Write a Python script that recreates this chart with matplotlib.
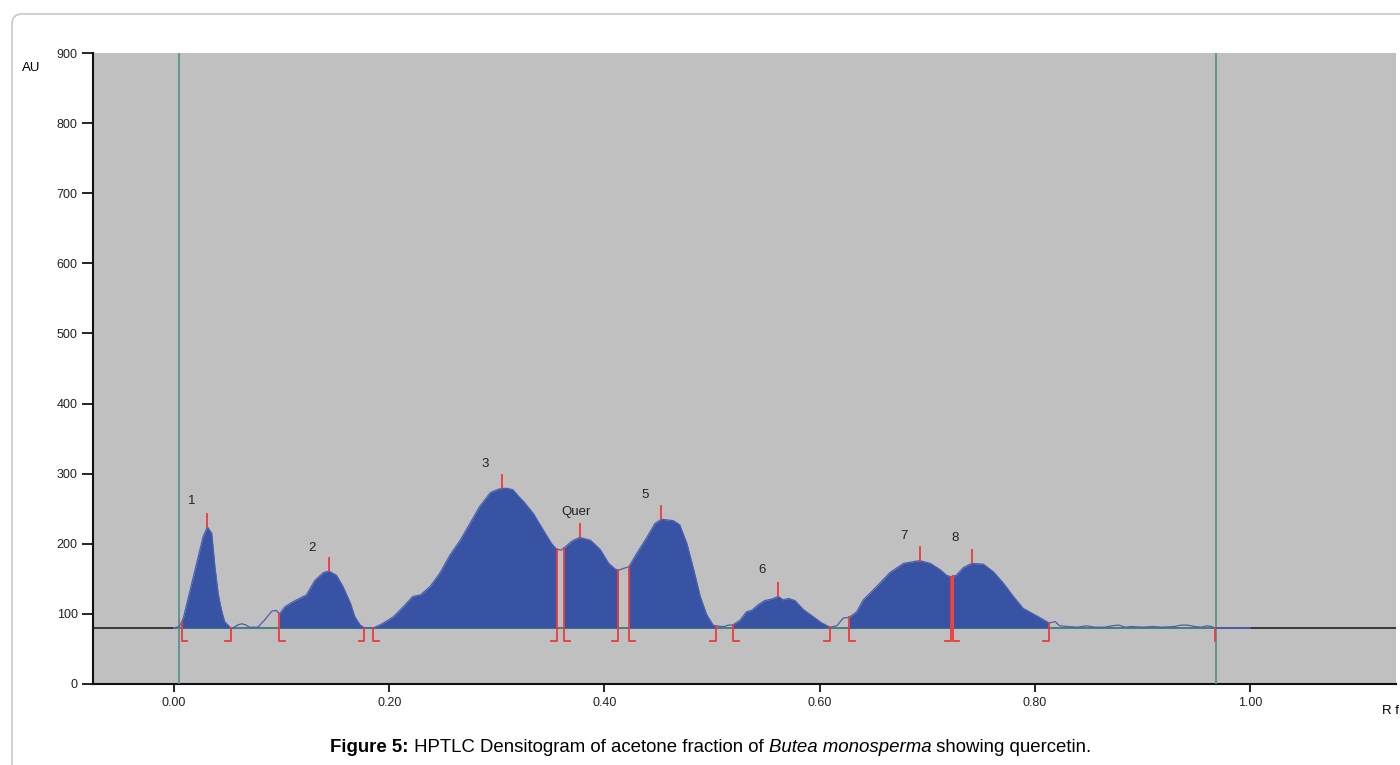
"""
HPTLC densitogram of the acetone fraction of Butea monosperma (Figure 5)
- scanned track AU vs Rf, integrated peaks filled in blue
- red start/end brackets and peak-max ticks like the scanner software
"""
import matplotlib
matplotlib.use('Agg')
import matplotlib.pyplot as plt
from matplotlib.patches import FancyBboxPatch
import numpy as np

# ---------------- densitogram trace ----------------
RF = [0.000, 0.005, 0.007, 0.009, 0.015, 0.021, 0.027, 0.031, 0.035, 0.038,
      0.041, 0.044, 0.047, 0.0527, 0.055, 0.059, 0.063, 0.067, 0.070, 0.078,
      0.084, 0.091, 0.095, 0.098, 0.103, 0.109, 0.114, 0.123, 0.131, 0.139,
      0.144, 0.151, 0.157, 0.164, 0.168, 0.173, 0.177, 0.1853, 0.191, 0.198,
      0.204, 0.213, 0.222, 0.229, 0.238, 0.247, 0.2565, 0.266, 0.275, 0.284,
      0.294, 0.300, 0.3045, 0.310, 0.315, 0.320, 0.325, 0.334, 0.343, 0.351,
      0.3557, 0.360, 0.3625, 0.364, 0.370, 0.377, 0.387, 0.396, 0.404, 0.410,
      0.413, 0.418, 0.4226, 0.430, 0.439, 0.447, 0.453, 0.464, 0.470, 0.4765,
      0.483, 0.489, 0.495, 0.501, 0.5037, 0.508, 0.512, 0.515, 0.5192, 0.526,
      0.532, 0.537, 0.543, 0.549, 0.5555, 0.5616, 0.566, 0.571, 0.577, 0.585,
      0.594, 0.602, 0.6097, 0.616, 0.622, 0.6276, 0.6345, 0.6406, 0.653, 0.6654,
      0.678, 0.693, 0.703, 0.712, 0.718, 0.7218, 0.7243, 0.727, 0.7336, 0.7413,
      0.752, 0.7615, 0.7707, 0.780, 0.789, 0.802, 0.811, 0.8135, 0.819, 0.823,
      0.830, 0.840, 0.848, 0.856, 0.865, 0.872, 0.878, 0.884, 0.890, 0.900,
      0.910, 0.918, 0.930, 0.936, 0.942, 0.948, 0.955, 0.960, 0.964, 0.9675,
      1.000]
AU = [80, 82, 88, 96, 134, 172, 210, 224, 215, 167,
      129, 106, 89, 80, 80, 84, 86, 84, 81, 81,
      91, 104, 105, 100, 110, 116, 120, 127, 148, 159,
      161, 155, 139, 115, 96, 84, 80, 80, 84, 90,
      96, 110, 125, 127, 139, 158, 184, 205, 229, 253,
      273, 277, 279, 279, 277, 268, 260, 243, 220, 200,
      192, 191, 194, 196, 204, 209, 205, 192, 172, 164,
      162, 165, 167, 186, 208, 229, 235, 233, 227, 201,
      163, 125, 99, 84, 83, 82, 82, 84, 84, 91,
      103, 105, 113, 119, 121, 125, 120, 122, 119, 106,
      96, 87, 81, 83, 94, 95, 103, 120, 139, 159,
      172, 176, 172, 163, 155, 153, 154, 155, 166, 172,
      171, 160, 144, 125, 108, 97, 89, 87, 89, 83,
      82, 81, 83, 81, 81, 83, 84, 81, 82, 81,
      82, 81, 82, 84, 84, 82, 81, 83, 82, 80,
      80]

BASELINE = 80
# integrated peaks: label, start Rf, max Rf, end Rf
PEAK_LABELS = ['1', '2', '3', 'Quer', '5', '6', '7', '8']
PEAK_START = [0.007, 0.098, 0.1853, 0.3625, 0.4226, 0.5192, 0.6276, 0.7243]
PEAK_MAX = [0.031, 0.144, 0.3045, 0.377, 0.453, 0.5616, 0.693, 0.7413]
PEAK_END = [0.0527, 0.177, 0.3557, 0.413, 0.5037, 0.6097, 0.7218, 0.8135]
# label anchor (Rf, AU)
LABEL_RF = [0.0167, 0.128, 0.289, 0.3736, 0.4377, 0.5465, 0.6784, 0.7258]
LABEL_AU = [261, 194, 314, 245, 270, 163, 211, 208]

# scan window (teal lines) and final end marker
WINDOW = [0.005, 0.968]
TRACK_END = 0.9675

FILL_BLUE = '#3853a4'
LINE_BLUE = '#4a5fb0'
RED = '#ee3b3b'
TEAL = '#4d8f88'
BG_GRAY = '#c0c0c0'


def main():
    rf = np.array(RF)
    au = np.array(AU, dtype=float)

    plt.rcParams['font.family'] = ['Liberation Sans', 'DejaVu Sans']
    fig = plt.figure(figsize=(14, 7.65), dpi=100)

    # rounded page frame (outline only)
    frame = FancyBboxPatch((12, -40), 1450, 791, boxstyle='round,pad=0,rounding_size=10',
                           transform=None, facecolor='none', edgecolor='#c8c8c8',
                           linewidth=1.2, zorder=0)
    fig.patches.append(frame)

    ax = fig.add_axes([93 / 1400, 81 / 765, 1303 / 1400, 631 / 765])
    ax.set_facecolor(BG_GRAY)
    ax.set_xlim(-0.0753, 1.1357)
    ax.set_ylim(0, 900)

    # ---- baseline + trace ----
    ax.axhline(BASELINE, color='#222222', linewidth=1.2, zorder=2)
    ax.plot([rf[0], TRACK_END], [BASELINE, BASELINE], color=TEAL, linewidth=1.2, zorder=3)
    for s, e in zip(PEAK_START, PEAK_END):
        m = (rf >= s - 1e-6) & (rf <= e + 1e-6)
        ax.fill_between(rf[m], BASELINE, au[m], color=FILL_BLUE, linewidth=0, zorder=4)
    ax.plot(rf, au, color=LINE_BLUE, linewidth=0.9, zorder=5)
    ax.plot([TRACK_END, rf[-1]], [BASELINE, BASELINE], color=LINE_BLUE, linewidth=1.2, zorder=5)

    # ---- scan window ----
    for w in WINDOW:
        ax.axvline(w, color=TEAL, linewidth=1.2, zorder=3)

    # ---- red integration markers ----
    bottom = 62
    foot = 0.0055
    for s, e in zip(PEAK_START, PEAK_END):
        hs = au[np.isclose(rf, s)][0]
        he = au[np.isclose(rf, e)][0]
        ax.plot([s, s, s + foot], [hs, bottom, bottom], color=RED, linewidth=1.3, zorder=6)
        ax.plot([e - foot, e, e], [bottom, bottom, he], color=RED, linewidth=1.3, zorder=6)
    ax.plot([TRACK_END, TRACK_END], [BASELINE, 62], color=RED, linewidth=1.3, zorder=6)

    for pk in PEAK_MAX:
        h = au[np.isclose(rf, pk)][0]
        ax.plot([pk, pk], [h, h + 19], color=RED, linewidth=1.3, zorder=6)

    for lab, x, y in zip(PEAK_LABELS, LABEL_RF, LABEL_AU):
        ax.text(x, y, lab, ha='center', va='center', fontsize=9.5, color='#222222', zorder=7)

    # ---- axes cosmetics ----
    ax.set_yticks(np.arange(0, 901, 100))
    ax.set_xticks([0.0, 0.2, 0.4, 0.6, 0.8, 1.0])
    ax.set_xticklabels(['0.00', '0.20', '0.40', '0.60', '0.80', '1.00'])
    ax.tick_params(axis='y', direction='out', length=8, width=1.2, labelsize=9, pad=3,
                   labelcolor='#222222')
    ax.tick_params(axis='x', direction='out', length=6, width=1.2, labelsize=9, pad=3,
                   labelcolor='#222222')
    for side in ['top', 'right']:
        ax.spines[side].set_visible(False)
    for side in ['left', 'bottom']:
        ax.spines[side].set_linewidth(1.5)
        ax.spines[side].set_color('#111111')

    fig.text(31 / 1400, 1 - 68 / 765, 'AU', ha='center', va='center', fontsize=9.5)
    fig.text(1391 / 1400, 1 - 711 / 765, 'R f', ha='center', va='center', fontsize=9.5)

    # ---- caption: bold / regular / italic pieces laid out side by side ----
    pieces = [('Figure 5:', 'bold', 'normal'),
              (' HPTLC Densitogram of acetone fraction of ', 'normal', 'normal'),
              ('Butea monosperma', 'normal', 'italic'),
              (' showing quercetin.', 'normal', 'normal')]
    renderer = fig.canvas.get_renderer()
    texts = []
    for txt, wt, st in pieces:
        t = fig.text(0, 1 - 748 / 765, txt, fontsize=13.4, fontweight=wt, fontstyle=st,
                     va='center', ha='left')
        texts.append(t)
    widths = [t.get_window_extent(renderer).width for t in texts]
    x0 = 711 - sum(widths) / 2
    for t, w in zip(texts, widths):
        t.set_x(x0 / 1400)
        x0 += w

    fig.savefig('out.png', dpi=100)
    plt.close(fig)


if __name__ == "__main__":
    main()
